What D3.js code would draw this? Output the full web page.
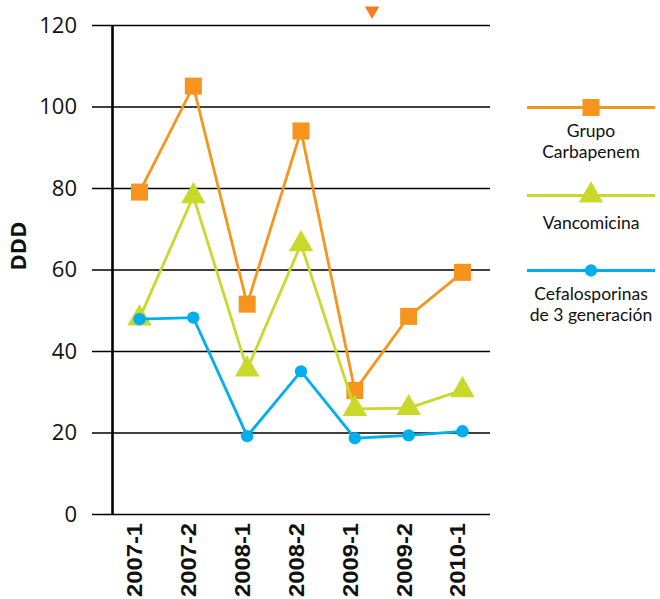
<!DOCTYPE html>
<html>
<head>
<meta charset="utf-8">
<script src="https://cdn.jsdelivr.net/npm/d3@7"></script>
<style>
	body { margin: 0; background: #fff; }
	text { font-family: 'Open Sans', sans-serif; fill: #111; }
</style>
</head>
<body>
<div id="chart"></div>
<script>
// Data

var periods = ['2007-1', '2007-2', '2008-1', '2008-2', '2009-1', '2009-2', '2010-1'];
var carbapenem = [79, 105, 51.5, 94, 30.3, 48.5, 59.3];
var vancomicina = [48, 78, 35.5, 66.2, 25.8, 26, 30.4];
var cefalosporinas = [47.8, 48.2, 19.1, 35, 18.6, 19.3, 20.3];
var yTicks = [0, 20, 40, 60, 80, 100, 120];

var series = [
	{ name: ['Grupo', 'Carbapenem'], values: carbapenem, color: '#F7941D', symbol: d3.symbolSquare, size: 290 },
	{ name: ['Vancomicina'], values: vancomicina, color: '#C9D92C', symbol: d3.symbolTriangle, size: 260 },
	{ name: ['Cefalosporinas', 'de 3 generación'], values: cefalosporinas, color: '#00AEEF', symbol: d3.symbolCircle, size: 120 }
];


// Config

var width = 660;
var height = 599;
var gridLeft = 92;
var gridRight = 490;
var axisX = 112.5;


// Setup

var svg = d3.select('#chart').append('svg')
	.attr('width', width)
	.attr('height', height);

var x = d3.scalePoint()
	.domain(periods)
	.range([139.5, 462.5]);

var y = d3.scaleLinear()
	.domain([0, 120])
	.range([514, 25]);

// Gridlines + tick labels
var yAxis = svg.append('g')
	.attr('transform', `translate(${gridLeft},0)`)
	.call(d3.axisLeft(y).tickValues(yTicks).tickSize(-(gridRight - gridLeft)).tickPadding(15));
yAxis.select('.domain').remove();
yAxis.selectAll('.tick line').attr('stroke', '#000').attr('stroke-width', 1.4);
yAxis.selectAll('.tick text')
	.style('font-family', "'Open Sans', sans-serif")
	.style('font-size', '22px')
	.attr('fill', '#111');

// Vertical axis line
svg.append('line')
	.attr('x1', axisX).attr('x2', axisX)
	.attr('y1', y(120)).attr('y2', y(0))
	.attr('stroke', '#000')
	.attr('stroke-width', 2.6);

// Category labels (slightly stretched along the text, like the original)
svg.append('g').selectAll('text')
	.data(periods)
	.enter().append('text')
		.attr('transform', d => `translate(${x(d) - 5},523) rotate(-90) scale(1.08,1)`)
		.attr('text-anchor', 'end')
		.attr('dy', '0.36em')
		.style('font-family', "'Liberation Sans', Arial, sans-serif")
		.style('font-weight', 'bold')
		.style('font-size', '22px')
		.text(d => d);

// Y title
svg.append('text')
	.attr('transform', 'translate(18,246) rotate(-90)')
	.attr('text-anchor', 'middle')
	.attr('dy', '0.36em')
	.style('font-weight', 'bold')
	.style('font-size', '22px')
	.text('DDD');

// Lines
var line = d3.line()
	.x((d, i) => x(periods[i]))
	.y(d => y(d));

var groups = svg.append('g').selectAll('.series')
	.data(series)
	.enter().append('g')
		.attr('class', 'series');

groups.append('path')
	.attr('d', d => line(d.values))
	.attr('fill', 'none')
	.attr('stroke', d => d.color)
	.attr('stroke-width', 2.8);

groups.each(function(s) {
	d3.select(this).selectAll('.marker')
		.data(s.values)
		.enter().append('path')
			.attr('class', 'marker')
			.attr('transform', (d, i) => `translate(${x(periods[i])},${y(d)})`)
			.attr('d', d3.symbol().type(s.symbol).size(s.size))
			.attr('fill', s.color);
});

// Stray off-scale marker at the top edge
svg.append('path')
	.attr('transform', `translate(${x('2009-1') + x.step() * 0.32},${y(123.5)}) rotate(180)`)
	.attr('d', d3.symbol().type(d3.symbolTriangle).size(90))
	.attr('fill', '#F47B20');


// Legend

var legendTop = [107.5, 195.5, 270.5];
var legend = svg.append('g').selectAll('.legend')
	.data(series)
	.enter().append('g')
		.attr('class', 'legend')
		.attr('transform', (d, i) => `translate(591,${legendTop[i]})`);

legend.append('line')
	.attr('x1', -64).attr('x2', 64)
	.attr('stroke', d => d.color)
	.attr('stroke-width', 2.8);

legend.append('path')
	.attr('d', d => d3.symbol().type(d.symbol).size(d.size)())
	.attr('fill', d => d.color);

legend.each(function(s) {
	d3.select(this).selectAll('text')
		.data(s.name)
		.enter().append('text')
			.attr('text-anchor', 'middle')
			.attr('y', (d, i) => (s.name.length === 1 ? 33 : 29.5) + i * 20.6)
			.style('font-family', "Lato, 'Open Sans', sans-serif")
			.style('font-size', '17.5px')
			.attr('fill', '#222')
			.text(d => d);
});
</script>
</body>
</html>
